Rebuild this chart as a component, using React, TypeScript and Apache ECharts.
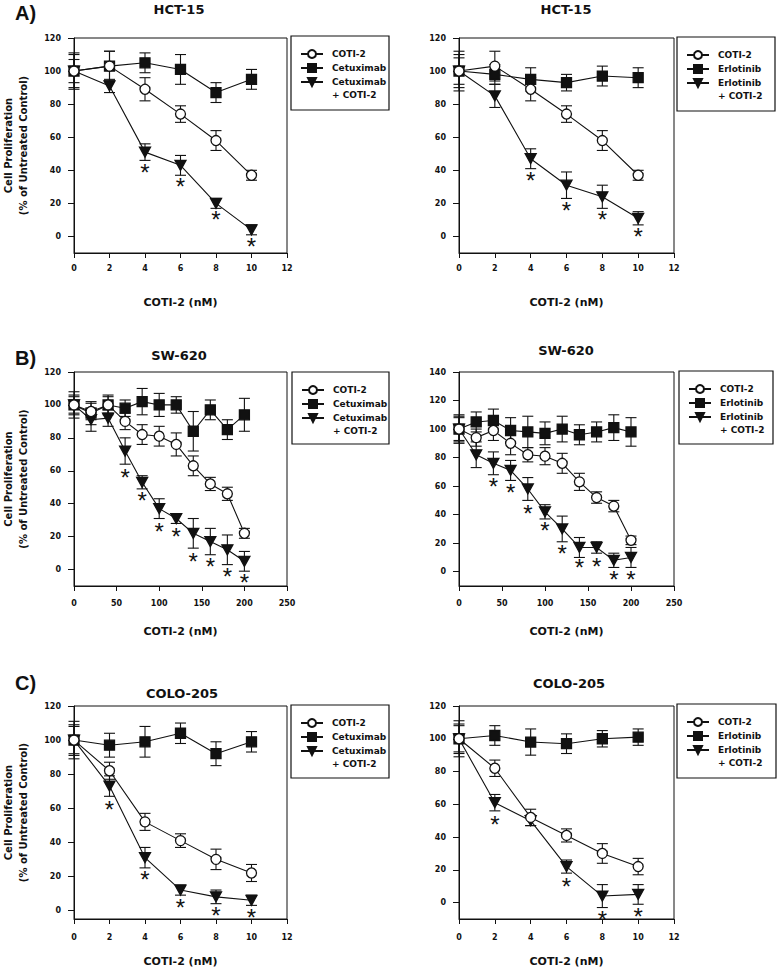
import React, { useEffect, useRef } from "react";
import * as echarts from "echarts";

// ---------- categories / ticks ----------
const xNarrow = [0, 2, 4, 6, 8, 10];
const xWide = [0, 20, 40, 60, 80, 100, 120, 140, 160, 180, 200];
const yTicks120 = [0, 20, 40, 60, 80, 100, 120];
const yTicks140 = [0, 20, 40, 60, 80, 100, 120, 140];

// ---------- A) HCT-15, Cetuximab ----------
const hctCetCoti = [100, 103, 89, 74, 58, 37];
const hctCetCotiErr = [10, 9, 7, 5, 6, 3];
const hctCetDrug = [100, 103, 105, 101, 87, 95];
const hctCetDrugErr = [11, 9, 6, 9, 6, 6];
const hctCetCombo = [100, 91, 51, 43, 20, 4];
const hctCetComboErr = [7, 4, 5, 6, 3, 3];
const hctCetStars = [null, null, 41, 32, 12, -4];

// ---------- A) HCT-15, Erlotinib ----------
const hctErlCoti = [100, 103, 89, 74, 58, 37];
const hctErlCotiErr = [12, 9, 7, 5, 6, 3];
const hctErlDrug = [100, 98, 95, 93, 97, 96];
const hctErlDrugErr = [10, 6, 7, 5, 6, 6];
const hctErlCombo = [100, 85, 47, 31, 24, 11];
const hctErlComboErr = [8, 7, 6, 8, 7, 4];
const hctErlStars = [null, null, 36, 18, 12, 2];

// ---------- B) SW-620, Cetuximab ----------
const swCetCoti = [100, 96, 100, 90, 82, 81, 76, 63, 52, 46, 22];
const swCetCotiErr = [6, 5, 5, 5, 6, 6, 7, 6, 4, 4, 3];
const swCetDrug = [100, 95, 100, 98, 102, 100, 100, 84, 97, 85, 94];
const swCetDrugErr = [8, 7, 6, 5, 8, 7, 5, 12, 6, 6, 10];
const swCetCombo = [100, 91, 92, 72, 53, 37, 31, 22, 17, 12, 5];
const swCetComboErr = [5, 7, 5, 8, 4, 6, 3, 9, 8, 9, 6];
const swCetStars = [null, null, null, 58, 44, 25, 22, 7, 4, -2, -6];

// ---------- B) SW-620, Erlotinib ----------
const swErlCoti = [100, 94, 99, 90, 82, 81, 76, 63, 52, 46, 22];
const swErlCotiErr = [8, 6, 7, 8, 5, 6, 7, 6, 4, 4, 3];
const swErlDrug = [100, 105, 106, 99, 98, 97, 100, 96, 98, 101, 98];
const swErlDrugErr = [10, 7, 8, 9, 11, 8, 9, 7, 7, 9, 10];
const swErlCombo = [100, 82, 76, 71, 58, 42, 30, 17, 17, 8, 10];
const swErlComboErr = [9, 9, 8, 7, 8, 5, 9, 7, 4, 5, 7];
const swErlStars = [null, null, 62, 58, 43, 31, 15, 5, 6, -3, -3];

// ---------- C) COLO-205, Cetuximab ----------
const coloCetCoti = [100, 82, 52, 41, 30, 22];
const coloCetCotiErr = [11, 5, 5, 4, 6, 5];
const coloCetDrug = [100, 97, 99, 104, 92, 99];
const coloCetDrugErr = [9, 7, 9, 6, 7, 6];
const coloCetCombo = [100, 73, 31, 12, 8, 6];
const coloCetComboErr = [8, 6, 6, 3, 4, 3];
const coloCetStars = [null, 61, 20, 4, -1, -2];

// ---------- C) COLO-205, Erlotinib ----------
const coloErlCoti = [100, 82, 52, 41, 30, 22];
const coloErlCotiErr = [11, 5, 5, 4, 6, 5];
const coloErlDrug = [100, 102, 98, 97, 100, 101];
const coloErlDrugErr = [8, 6, 8, 6, 5, 5];
const coloErlCombo = [100, 61, 50, 22, 4, 5];
const coloErlComboErr = [9, 5, 3, 4, 7, 6];
const coloErlStars = [null, 50, null, 12, -8, -6.5];

const FONT = "DejaVu Sans";
const INK = "#111";
const STAR_SIZE = 24;

type Panel = {
  grid: { left: number; top: number; width: number; height: number };
  x: number[];
  xMax: number;
  xInterval: number;
  yMin: number;
  yMax: number;
  yTicks: number[];
  yName: boolean;
  labelMargin: number;
  nameGap: number;
  agent: string;
  coti: number[];
  cotiErr: number[];
  drug: number[];
  drugErr: number[];
  combo: number[];
  comboErr: number[];
  stars: (number | null)[];
  title: string;
  titlePos: [number, number];
  legendBox: [number, number, number, number];
};

const panels: Panel[] = [
  {
    grid: { left: 72, top: 38, width: 215, height: 215 }, x: xNarrow, xMax: 12, xInterval: 2,
    yMin: -10, yMax: 120, yTicks: yTicks120, yName: true, labelMargin: 11, nameGap: 44,
    agent: "Cetuximab", coti: hctCetCoti, cotiErr: hctCetCotiErr, drug: hctCetDrug, drugErr: hctCetDrugErr,
    combo: hctCetCombo, comboErr: hctCetComboErr, stars: hctCetStars,
    title: "HCT-15", titlePos: [179, 9], legendBox: [291, 36, 98, 74],
  },
  {
    grid: { left: 459, top: 38, width: 215, height: 215 }, x: xNarrow, xMax: 12, xInterval: 2,
    yMin: -10, yMax: 120, yTicks: yTicks120, yName: false, labelMargin: 11, nameGap: 44,
    agent: "Erlotinib", coti: hctErlCoti, cotiErr: hctErlCotiErr, drug: hctErlDrug, drugErr: hctErlDrugErr,
    combo: hctErlCombo, comboErr: hctErlComboErr, stars: hctErlStars,
    title: "HCT-15", titlePos: [566, 9], legendBox: [677, 37, 98, 74],
  },
  {
    grid: { left: 72, top: 372, width: 215, height: 214 }, x: xWide, xMax: 250, xInterval: 50,
    yMin: -10, yMax: 120, yTicks: yTicks120, yName: true, labelMargin: 13, nameGap: 40,
    agent: "Cetuximab", coti: swCetCoti, cotiErr: swCetCotiErr, drug: swCetDrug, drugErr: swCetDrugErr,
    combo: swCetCombo, comboErr: swCetComboErr, stars: swCetStars,
    title: "SW-620", titlePos: [179, 355], legendBox: [292, 372, 97, 72],
  },
  {
    grid: { left: 459, top: 372, width: 215, height: 214 }, x: xWide, xMax: 250, xInterval: 50,
    yMin: -10, yMax: 140, yTicks: yTicks140, yName: false, labelMargin: 13, nameGap: 40,
    agent: "Erlotinib", coti: swErlCoti, cotiErr: swErlCotiErr, drug: swErlDrug, drugErr: swErlDrugErr,
    combo: swErlCombo, comboErr: swErlComboErr, stars: swErlStars,
    title: "SW-620", titlePos: [566, 350], legendBox: [679, 371, 94, 73],
  },
  {
    grid: { left: 72, top: 706, width: 215, height: 213 }, x: xNarrow, xMax: 12, xInterval: 2,
    yMin: -5, yMax: 120, yTicks: yTicks120, yName: true, labelMargin: 14, nameGap: 37,
    agent: "Cetuximab", coti: coloCetCoti, cotiErr: coloCetCotiErr, drug: coloCetDrug, drugErr: coloCetDrugErr,
    combo: coloCetCombo, comboErr: coloCetComboErr, stars: coloCetStars,
    title: "COLO-205", titlePos: [182, 693], legendBox: [291, 705, 98, 73],
  },
  {
    grid: { left: 459, top: 706, width: 215, height: 213 }, x: xNarrow, xMax: 12, xInterval: 2,
    yMin: -10, yMax: 120, yTicks: yTicks120, yName: false, labelMargin: 14, nameGap: 37,
    agent: "Erlotinib", coti: coloErlCoti, cotiErr: coloErlCotiErr, drug: coloErlDrug, drugErr: coloErlDrugErr,
    combo: coloErlCombo, comboErr: coloErlComboErr, stars: coloErlStars,
    title: "COLO-205", titlePos: [569, 683], legendBox: [677, 704, 99, 74],
  },
];

const panelLabels: [string, number, number][] = [
  ["A)", 15, 13],
  ["B)", 15, 358],
  ["C)", 15, 683],
];

const TRIANGLE = "path://M0,0L10,0L5,9Z";

function errorRender(params: any, api: any) {
  const x = api.value(0);
  const lo = api.coord([x, api.value(1)]);
  const hi = api.coord([x, api.value(2)]);
  const cw = 5.5;
  const st = { stroke: INK, lineWidth: 1.1 };
  return {
    type: "group",
    children: [
      { type: "line", shape: { x1: lo[0], y1: lo[1], x2: hi[0], y2: hi[1] }, style: st },
      { type: "line", shape: { x1: lo[0] - cw, y1: lo[1], x2: lo[0] + cw, y2: lo[1] }, style: st },
      { type: "line", shape: { x1: hi[0] - cw, y1: hi[1], x2: hi[0] + cw, y2: hi[1] }, style: st },
    ],
  };
}

function starRender(params: any, api: any) {
  const p = api.coord([api.value(0), api.value(1)]);
  return {
    type: "text",
    x: p[0],
    y: p[1] + STAR_SIZE * 0.14,
    style: {
      text: "*",
      fontSize: STAR_SIZE,
      lineHeight: 12,
      fontFamily: "Liberation Sans",
      fill: INK,
      align: "center",
      verticalAlign: "middle",
    },
  };
}

function buildOption() {
  const grid: any[] = [];
  const xAxis: any[] = [];
  const yAxis: any[] = [];
  const series: any[] = [];
  const legend: any[] = [];
  const graphic: any[] = [];

  panels.forEach((p, i) => {
    grid.push({
      ...p.grid,
      show: true,
      borderColor: INK,
      borderWidth: 1,
      backgroundColor: "transparent",
    });
    xAxis.push({
      type: "value",
      gridIndex: i,
      min: 0,
      max: p.xMax,
      interval: p.xInterval,
      name: "COTI-2 (nM)",
      nameLocation: "middle",
      nameGap: p.nameGap,
      nameTextStyle: { fontFamily: FONT, fontWeight: "bold", fontSize: 11, color: INK },
      axisLine: { onZero: false, lineStyle: { color: INK, width: 1 } },
      axisTick: { show: true, inside: false, length: 5, lineStyle: { color: INK } },
      axisLabel: { margin: p.labelMargin, fontFamily: FONT, fontWeight: "bold", fontSize: 8, color: INK },
      splitLine: { show: false },
    });
    yAxis.push({
      type: "value",
      gridIndex: i,
      min: p.yMin,
      max: p.yMax,
      name: p.yName ? "Cell Proliferation\n(% of Untreated Control)" : "",
      nameLocation: "middle",
      nameRotate: 90,
      nameGap: 43,
      nameTextStyle: { fontFamily: FONT, fontWeight: "bold", fontSize: 10, lineHeight: 15, color: INK },
      axisLine: { onZero: false, lineStyle: { color: INK, width: 1 } },
      axisTick: { show: true, inside: false, length: 6, customValues: p.yTicks, lineStyle: { color: INK } },
      axisLabel: { margin: 13, customValues: p.yTicks, fontFamily: FONT, fontWeight: "bold", fontSize: 8, color: INK },
      splitLine: { show: false },
    });

    const comboName = p.agent + " + COTI-2";
    const lineDefs = [
      { name: comboName, vals: p.combo, err: p.comboErr, symbol: TRIANGLE, size: [11, 10], fill: INK },
      { name: p.agent, vals: p.drug, err: p.drugErr, symbol: "rect", size: 10, fill: INK },
      { name: "COTI-2", vals: p.coti, err: p.cotiErr, symbol: "circle", size: 10, fill: "#fff" },
    ];
    lineDefs.forEach((d) => {
      series.push({
        type: "custom",
        name: "err-" + d.name,
        xAxisIndex: i,
        yAxisIndex: i,
        z: 1,
        silent: true,
        renderItem: errorRender,
        encode: { x: 0, y: [1, 2] },
        data: p.x.map((xv, k) => [xv, d.vals[k] - d.err[k], d.vals[k] + d.err[k]]),
      });
    });
    lineDefs.forEach((d, k) => {
      series.push({
        type: "line",
        name: d.name,
        xAxisIndex: i,
        yAxisIndex: i,
        z: 2 + k * 0.1,
        symbol: d.symbol,
        symbolSize: d.size,
        showAllSymbol: true,
        lineStyle: { color: INK, width: 1.1 },
        itemStyle: { color: d.fill, borderColor: INK, borderWidth: 1.3 },
        emphasis: { disabled: true },
        data: p.x.map((xv, j) => [xv, d.vals[j]]),
      });
    });
    series.push({
      type: "custom",
      name: "stars-" + i,
      xAxisIndex: i,
      yAxisIndex: i,
      z: 5,
      silent: true,
      renderItem: starRender,
      encode: { x: 0, y: 1 },
      data: p.x
        .map((xv, k) => (p.stars[k] === null ? null : [xv, p.stars[k]]))
        .filter((v) => v !== null),
    });

    const [bx, by, bw, bh] = p.legendBox;
    graphic.push({
      type: "rect",
      shape: { x: bx, y: by, width: bw, height: bh },
      style: { fill: "none", stroke: INK, lineWidth: 1.2 },
      silent: true,
    });
    legend.push({
      orient: "vertical",
      left: bx + 9,
      top: by + 12,
      padding: 0,
      itemWidth: 22,
      itemHeight: 10,
      itemGap: 2,
      selectedMode: false,
      formatter: (n: string) => n.replace(" + COTI-2", ""),
      textStyle: {
        fontFamily: FONT,
        fontWeight: "bold",
        fontSize: 9,
        lineHeight: 12,
        color: INK,
        padding: [0, 0, 0, 4],
      },
      data: [{ name: "COTI-2" }, { name: p.agent }, { name: comboName }],
    });
    // second line of the third legend entry
    graphic.push({
      type: "text",
      x: bx + 41,
      y: by + 59,
      silent: true,
      style: {
        text: "+ COTI-2",
        fontFamily: FONT,
        fontWeight: "bold",
        fontSize: 9,
        fill: INK,
        align: "left",
        verticalAlign: "middle",
      },
    });
    graphic.push({
      type: "text",
      x: p.titlePos[0],
      y: p.titlePos[1],
      silent: true,
      style: {
        text: p.title,
        fontFamily: FONT,
        fontWeight: "bold",
        fontSize: 13,
        fill: INK,
        align: "center",
        verticalAlign: "middle",
      },
    });
  });

  panelLabels.forEach(([t, x, y]) => {
    graphic.push({
      type: "text",
      x,
      y,
      silent: true,
      style: {
        text: t,
        fontFamily: "Liberation Sans",
        fontWeight: "bold",
        fontSize: 20,
        fill: INK,
        align: "left",
        verticalAlign: "middle",
      },
    });
  });

  return {
    animation: false,
    backgroundColor: "#fff",
    grid,
    xAxis,
    yAxis,
    legend,
    graphic,
    series,
  };
}

export default function App() {
  const ref = useRef<HTMLDivElement>(null);
  useEffect(() => {
    document.body.style.margin = "0";
    if (!ref.current) return;
    const chart = echarts.init(ref.current, undefined, { renderer: "svg" });
    chart.setOption(buildOption() as any);
    return () => chart.dispose();
  }, []);
  return <div ref={ref} style={{ width: 777, height: 970 }} />;
}
